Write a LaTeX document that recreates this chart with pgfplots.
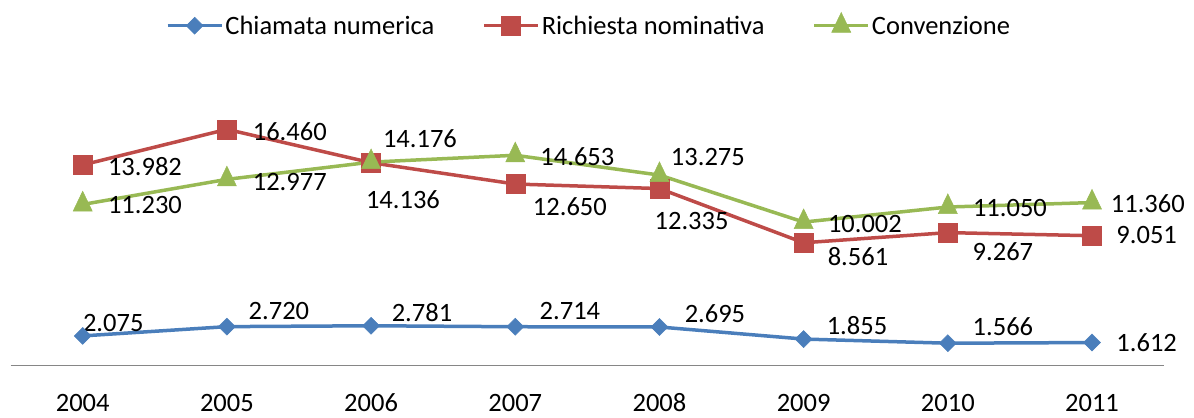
\documentclass[border=0pt]{standalone}
\usepackage{fontspec}
\setmainfont{Carlito}
\usepackage{pgfplots}
\pgfplotsset{compat=1.18}
\definecolor{cblue}{HTML}{4A7EBB}
\definecolor{cred}{HTML}{BE4B48}
\definecolor{cgreen}{HTML}{98B954}
\definecolor{axgray}{HTML}{868686}
\newcommand\lab{\fontsize{26.5bp}{30bp}\selectfont}
\begin{document}
\begin{tikzpicture}
\path[use as bounding box] (0bp,0bp) rectangle (1194bp,418bp);
\begin{axis}[
  at={(10.6bp,52.3bp)}, anchor=south west,
  scale only axis, width=1153.6bp, height=287.2bp,
  xmin=-0.5, xmax=7.5, ymin=0, ymax=20,
  clip=false,
  axis x line=bottom,
  x axis line style={-, draw=axgray, line width=1.3bp},
  hide y axis,
  xtick={0,1,2,3,4,5,6,7},
  xticklabels={2004,2005,2006,2007,2008,2009,2010,2011},
  major tick length=0pt,
  xtick style={draw=none},
  xticklabel style={anchor=base, yshift=-46bp, font=\lab},
  legend columns=3,
  legend style={draw=none, fill=none, at={(0.5014,1.186)}, anchor=center, font=\lab,
    /tikz/every even column/.append style={column sep=46bp}},
  legend image code/.code={\draw[mark repeat=2,mark phase=2,#1] plot coordinates {(0bp,0bp) (27bp,0bp) (54bp,0bp)};},
]
\addplot[cblue, line width=3.5bp, mark=square*, mark size=6bp, mark options={rotate=45, line width=0.5bp}]
  coordinates {(0,2.075) (1,2.720) (2,2.781) (3,2.714) (4,2.695) (5,1.855) (6,1.566) (7,1.612)};
\addlegendentry{Chiamata numerica}
\addplot[cred, line width=3.5bp, mark=square*, mark size=9.5bp, mark options={line width=0.5bp}]
  coordinates {(0,13.982) (1,16.460) (2,14.136) (3,12.650) (4,12.335) (5,8.561) (6,9.267) (7,9.051)};
\addlegendentry{Richiesta nominativa}
\addplot[cgreen, line width=3.5bp, mark=triangle*, mark size=11bp, mark options={yscale=1.2, line width=0.5bp}]
  coordinates {(0,11.230) (1,12.977) (2,14.176) (3,14.653) (4,13.275) (5,10.002) (6,11.050) (7,11.360)};
\addlegendentry{Convenzione}
% data labels: Chiamata numerica
\node[font=\lab] at (axis cs:0.212,2.97) {2.075};
\node[font=\lab] at (axis cs:1.361,3.78) {2.720};
\node[font=\lab] at (axis cs:2.353,3.69) {2.781};
\node[font=\lab] at (axis cs:3.379,3.83) {2.714};
\node[font=\lab] at (axis cs:4.385,3.62) {2.695};
\node[font=\lab] at (axis cs:5.370,2.79) {1.855};
\node[font=\lab] at (axis cs:6.382,2.74) {1.566};
\node[font=\lab] at (axis cs:7.379,1.58) {1.612};
% Richiesta nominativa
\node[font=\lab] at (axis cs:0.432,13.88) {13.982};
\node[font=\lab] at (axis cs:1.436,16.32) {16.460};
\node[font=\lab] at (axis cs:2.221,11.56) {14.136};
\node[font=\lab] at (axis cs:3.379,11.09) {12.650};
\node[font=\lab] at (axis cs:4.223,10.05) {12.335};
\node[font=\lab] at (axis cs:5.377,7.61) {8.561};
\node[font=\lab] at (axis cs:6.382,7.94) {9.267};
\node[font=\lab] at (axis cs:7.379,9.10) {9.051};
% Convenzione
\node[font=\lab] at (axis cs:0.432,11.18) {11.230};
\node[font=\lab] at (axis cs:1.436,12.80) {12.977};
\node[font=\lab] at (axis cs:2.339,15.83) {14.176};
\node[font=\lab] at (axis cs:3.431,14.53) {14.653};
\node[font=\lab] at (axis cs:4.336,14.53) {13.275};
\node[font=\lab] at (axis cs:5.425,9.84) {10.002};
\node[font=\lab] at (axis cs:6.431,11.00) {11.050};
\node[font=\lab] at (axis cs:7.387,11.30) {11.360};
\end{axis}
\end{tikzpicture}
\end{document}
